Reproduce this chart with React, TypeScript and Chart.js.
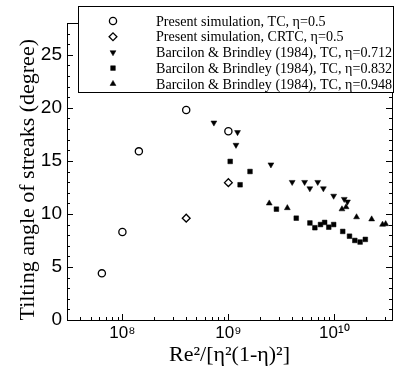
import React, { useEffect, useRef } from "react";
import { Chart, registerables } from "chart.js";
import { drawPoint } from "chart.js/helpers";

Chart.register(...registerables);

// ---- data ----
const seriesLabels = [
  "Present simulation, TC, η=0.5",
  "Present simulation, CRTC, η=0.5",
  "Barcilon & Brindley (1984), TC, η=0.712",
  "Barcilon & Brindley (1984), TC, η=0.832",
  "Barcilon & Brindley (1984), TC, η=0.948",
];

const tcX = [6.4e7, 1.0e8, 1.43e8, 4.0e8, 1.0e9];
const tcY = [4.4, 8.3, 15.9, 19.8, 17.8];

const crtcX = [4.0e8, 1.0e9];
const crtcY = [9.6, 12.95];

const bb712X = [7.3e8, 1.22e9, 1.18e9, 2.52e9, 4.0e9, 5.24e9, 5.87e9, 6.97e9, 7.88e9, 9.85e9, 1.24e10, 1.33e10];
const bb712Y = [18.6, 17.7, 16.5, 14.65, 13.0, 13.0, 12.4, 13.0, 12.4, 11.7, 11.4, 11.15];

const bb832X = [1.04e9, 1.29e9, 1.6e9, 2.84e9, 4.37e9, 5.88e9, 6.55e9, 7.4e9, 8.1e9, 8.86e9, 9.86e9, 1.2e10, 1.39e10, 1.56e10, 1.75e10, 1.96e10];
const bb832Y = [14.95, 12.75, 14.0, 10.45, 9.6, 9.15, 8.7, 9.0, 9.2, 8.75, 9.0, 8.35, 7.9, 7.5, 7.35, 7.6];

const bb948X = [2.43e9, 3.6e9, 1.18e10, 1.29e10, 1.62e10, 2.25e10, 2.85e10, 3.05e10];
const bb948Y = [11.0, 10.56, 10.45, 10.65, 9.7, 9.5, 9.0, 9.05];

const xTickValues = [1e8, 1e9, 1e10];
const xTickLabels = ["10⁸", "10⁹", "10¹⁰"];
const yTickValues = [0, 5, 10, 15, 20, 25];

const X_MIN = 3e7;
const X_MAX = 3.5e10;
const Y_MIN = 0;
const Y_MAX = 28;

const xTitle = "Re²/[η²(1-η)²]";
const yTitle = "Tilting angle of streaks (degree)";

const toPoints = (xs: number[], ys: number[]) => xs.map((x, i) => ({ x, y: ys[i] }));

// ---- plugin: inward ticks, frame, legend box ----
const framePlugin = {
  id: "frameAndLegend",
  afterDraw(chart: any) {
    const { ctx, chartArea, scales } = chart;
    const { left, right, top, bottom } = chartArea;
    const x = scales.x;
    const y = scales.y;
    ctx.save();
    ctx.strokeStyle = "#000";
    ctx.lineWidth = 1;
    ctx.beginPath();
    for (let v = Y_MIN; v <= Y_MAX; v += 1) {
      const py = Math.round(y.getPixelForValue(v)) + 0.5;
      const len = v % 5 === 0 ? 6 : 3;
      ctx.moveTo(left, py);
      ctx.lineTo(left + len, py);
      ctx.moveTo(right, py);
      ctx.lineTo(right - len, py);
    }
    for (let e = 7; e <= 10; e++) {
      for (let m = 1; m <= 9; m++) {
        const v = m * Math.pow(10, e);
        if (v < X_MIN || v > X_MAX) continue;
        const px = Math.round(x.getPixelForValue(v)) + 0.5;
        const len = m === 1 ? 6 : 3;
        ctx.moveTo(px, bottom);
        ctx.lineTo(px, bottom - len);
        ctx.moveTo(px, top);
        ctx.lineTo(px, top + len);
      }
    }
    ctx.stroke();
    ctx.strokeRect(Math.round(left) + 0.5, Math.round(top) + 0.5, Math.round(right - left), Math.round(bottom - top));

    // legend
    const bx = 78, by = 6, bw = 315, bh = 86;
    ctx.fillStyle = "#fff";
    ctx.fillRect(bx, by, bw, bh);
    ctx.strokeRect(bx + 0.5, by + 0.5, bw, bh);
    ctx.font = '14.1px "Liberation Serif"';
    ctx.textBaseline = "middle";
    ctx.textAlign = "left";
    chart.data.datasets.forEach((ds: any, i: number) => {
      const cy = by + 15 + i * 15.7;
      ctx.fillStyle = ds.backgroundColor;
      ctx.strokeStyle = ds.borderColor;
      ctx.lineWidth = ds.pointBorderWidth;
      drawPoint(ctx, {
        pointStyle: ds.pointStyle,
        rotation: ds.pointRotation || 0,
        radius: ds.pointRadius,
        borderWidth: ds.pointBorderWidth,
      } as any, 113, cy);
      ctx.fillStyle = "#000";
      ctx.fillText(ds.label, 156, cy + 1);
    });
    ctx.restore();
  },
};

export default function App() {
  const ref = useRef<HTMLCanvasElement>(null);
  useEffect(() => {
    if (!ref.current) return;
    const chart = new Chart(ref.current, {
      type: "scatter",
      data: {
        datasets: [
          {
            label: seriesLabels[0],
            data: toPoints(tcX, tcY),
            pointStyle: "circle",
            pointRadius: 3.6,
            pointBorderWidth: 1.3,
            backgroundColor: "#fff",
            borderColor: "#000",
          },
          {
            label: seriesLabels[1],
            data: toPoints(crtcX, crtcY),
            pointStyle: "rectRot",
            pointRadius: 3.9,
            pointBorderWidth: 1.3,
            backgroundColor: "#fff",
            borderColor: "#000",
          },
          {
            label: seriesLabels[2],
            data: toPoints(bb712X, bb712Y),
            pointStyle: "triangle",
            pointRotation: 180,
            pointRadius: 3.4,
            pointBorderWidth: 0.5,
            backgroundColor: "#000",
            borderColor: "#000",
          },
          {
            label: seriesLabels[3],
            data: toPoints(bb832X, bb832Y),
            pointStyle: "rect",
            pointRadius: 3.3,
            pointBorderWidth: 0.5,
            backgroundColor: "#000",
            borderColor: "#000",
          },
          {
            label: seriesLabels[4],
            data: toPoints(bb948X, bb948Y),
            pointStyle: "triangle",
            pointRadius: 3.4,
            pointBorderWidth: 0.5,
            backgroundColor: "#000",
            borderColor: "#000",
          },
        ],
      } as any,
      options: {
        animation: false,
        responsive: false,
        layout: { padding: { left: 0, right: 9, top: 23, bottom: 0 } },
        plugins: { legend: { display: false }, tooltip: { enabled: false } },
        scales: {
          x: {
            type: "logarithmic",
            min: X_MIN,
            max: X_MAX,
            afterBuildTicks: (s: any) => {
              s.ticks = xTickValues.map((v) => ({ value: v }));
            },
            afterFit: (s: any) => {
              s.height = 51;
            },
            ticks: {
              autoSkip: false,
              maxRotation: 0,
              padding: 3,
              color: "#000",
              font: { family: "Liberation Sans", size: 17 },
              callback: (v: any) => {
                const i = xTickValues.indexOf(Number(v));
                return i >= 0 ? xTickLabels[i] : "";
              },
            },
            grid: { display: false, drawTicks: false },
            border: { display: false },
            title: {
              display: true,
              text: xTitle,
              color: "#000",
              font: { family: "Liberation Serif", size: 22 },
              padding: { top: 0, bottom: 3 },
            },
          },
          y: {
            type: "linear",
            min: Y_MIN,
            max: Y_MAX,
            afterBuildTicks: (s: any) => {
              s.ticks = yTickValues.map((v) => ({ value: v }));
            },
            afterFit: (s: any) => {
              s.width = 67;
            },
            ticks: {
              padding: 5,
              color: "#000",
              font: { family: "Liberation Sans", size: 19 },
            },
            grid: { display: false, drawTicks: false },
            border: { display: false },
            title: {
              display: true,
              text: yTitle + "   ",
              color: "#000",
              font: { family: "Liberation Serif", size: 22 },
              padding: { top: 15, bottom: 0 },
            },
          },
        },
      } as any,
      plugins: [framePlugin],
    });
    return () => chart.destroy();
  }, []);
  return (
    <div style={{ position: "absolute", left: 0, top: 0, width: 401, height: 371, background: "#fff" }}>
      <canvas ref={ref} width={401} height={371} style={{ display: "block" }} />
    </div>
  );
}
